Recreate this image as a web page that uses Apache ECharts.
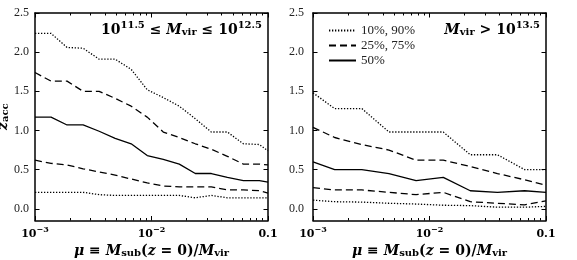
<!DOCTYPE html>
<html><head><meta charset="utf-8">
<script src="https://cdn.jsdelivr.net/npm/echarts@6/dist/echarts.min.js"></script>
<style>html,body{margin:0;padding:0;background:#fff}#c{width:577px;height:260px}</style>
</head><body><div id="c"></div>
<script>
// ---- data ----
const muLeft  = [0.001, 0.001373, 0.001885, 0.002588, 0.003553, 0.004875, 0.006693, 0.009189, 0.01262, 0.01732, 0.02377, 0.03263, 0.04479, 0.06149, 0.08441, 0.1];
const left10  = [0.21, 0.21, 0.21, 0.21, 0.18, 0.17, 0.17, 0.17, 0.17, 0.17, 0.14, 0.17, 0.14, 0.14, 0.14, 0.14];
const left25  = [0.62, 0.58, 0.56, 0.51, 0.47, 0.43, 0.38, 0.33, 0.29, 0.28, 0.28, 0.28, 0.24, 0.24, 0.23, 0.20];
const left50  = [1.17, 1.17, 1.07, 1.07, 0.99, 0.90, 0.83, 0.68, 0.63, 0.57, 0.45, 0.45, 0.40, 0.36, 0.36, 0.34];
const left75  = [1.74, 1.63, 1.63, 1.50, 1.50, 1.41, 1.31, 1.17, 0.98, 0.91, 0.83, 0.76, 0.67, 0.57, 0.57, 0.56];
const left90  = [2.24, 2.24, 2.06, 2.05, 1.91, 1.91, 1.78, 1.52, 1.42, 1.31, 1.15, 0.98, 0.98, 0.83, 0.82, 0.74];

const muRight = [0.001, 0.001535, 0.002624, 0.004487, 0.007674, 0.01312, 0.02239, 0.03828, 0.06546, 0.1];
const right10 = [0.11, 0.09, 0.085, 0.07, 0.06, 0.045, 0.04, 0.02, 0.02, 0.03];
const right25 = [0.27, 0.24, 0.24, 0.21, 0.18, 0.21, 0.09, 0.07, 0.05, 0.10];
const right50 = [0.60, 0.50, 0.50, 0.45, 0.36, 0.40, 0.23, 0.21, 0.23, 0.21];
const right75 = [1.04, 0.91, 0.82, 0.75, 0.62, 0.62, 0.54, 0.45, 0.37, 0.30];
const right90 = [1.48, 1.28, 1.28, 0.98, 0.98, 0.98, 0.69, 0.69, 0.50, 0.50];

const seriesNames = ['10%, 90%', '25%, 75%', '50%'];
const xMajorTicks = [0.001, 0.01, 0.1];
const xMinorTicks = [0.002, 0.003, 0.004, 0.005, 0.006, 0.007, 0.008, 0.009,
                     0.02, 0.03, 0.04, 0.05, 0.06, 0.07, 0.08, 0.09];
const xTickLabels = ['{b|10}{sup|\u22123}', '{b|10}{sup|\u22122}', '{b|0.1}'];
const yTicks = [0, 0.5, 1, 1.5, 2, 2.5];
const yTickLabels = ['0.0', '0.5', '1.0', '1.5', '2.0', '2.5'];
const xTitle = '{bi|\u03bc}{b| \u2261 }{bi|M}{sub|sub}{b|(}{bi|z}{b| = 0)/}{bi|M}{sub|vir}';
const yTitle = '{bi|z}{sub|acc}';
const annLeft = '{b|10}{sup|11.5}{b| \u2264 }{bi|M}{sub|vir}{b| \u2264 10}{sup|12.5}';
const annRight = '{bi|M}{sub|vir}{b| > 10}{sup|13.5}';

// ---- styling ----
const SERIF = '"Liberation Serif", "DejaVu Serif", serif';
const MATH = '"DejaVu Serif", "Liberation Serif", serif';
const BLACK = '#000';
const DOT = [1.3, 1.7], DASH = [7, 4];

function richSet(size) {
  const s = Math.round(size * 0.7);
  return {
    b:   {fontFamily: MATH, fontWeight: 'bold', fontSize: size, color: BLACK, lineHeight: size + 3, verticalAlign: 'bottom'},
    bi:  {fontFamily: MATH, fontWeight: 'bold', fontStyle: 'italic', fontSize: size, color: BLACK, lineHeight: size + 3, verticalAlign: 'bottom'},
    sup: {fontFamily: MATH, fontWeight: 'bold', fontSize: s, color: BLACK, lineHeight: s - 1, verticalAlign: 'top'},
    sub: {fontFamily: MATH, fontWeight: 'bold', fontSize: s, color: BLACK, lineHeight: s + 1, verticalAlign: 'bottom'}
  };
}

const GRIDS = [
  {left: 35, top: 13, width: 233, height: 207.5, outerBoundsMode: 'none'},
  {left: 313, top: 13, width: 233, height: 207.5, outerBoundsMode: 'none'}
];

function xLabelFmt(v) {
  const i = xMajorTicks.findIndex(t => Math.abs(Math.log10(t) - Math.log10(v)) < 1e-6);
  return i >= 0 ? xTickLabels[i] : '';
}

function xAxesFor(g) {
  const base = {type: 'log', logBase: 10, gridIndex: g, min: 0.001, max: 0.1,
    splitLine: {show: false}, minorTick: {show: false}, minorSplitLine: {show: false}};
  const line = {show: true, onZero: false, lineStyle: {color: BLACK, width: 1.5}};
  const noLine = {show: false, onZero: false};
  const major = {show: true, inside: true, length: 4.5, customValues: xMajorTicks, lineStyle: {color: BLACK, width: 1}};
  const minor = {show: true, inside: true, length: 2.5, customValues: xMinorTicks, lineStyle: {color: BLACK, width: 1}};
  return [
    Object.assign({}, base, {position: 'bottom', axisLine: line, axisTick: major,
      axisLabel: {show: true, customValues: xMajorTicks, formatter: xLabelFmt, margin: 5, rich: richSet(11)},
      name: xTitle, nameLocation: 'middle', nameGap: 20, nameTextStyle: {rich: richSet(14)}}),
    Object.assign({}, base, {position: 'bottom', axisLine: noLine, axisTick: minor, axisLabel: {show: false}}),
    Object.assign({}, base, {position: 'top', axisLine: line, axisTick: major, axisLabel: {show: false}}),
    Object.assign({}, base, {position: 'top', axisLine: noLine, axisTick: minor, axisLabel: {show: false}})
  ];
}

function yAxesFor(g, margin, withName) {
  const base = {type: 'value', gridIndex: g, min: -0.15, max: 2.5, splitLine: {show: false},
    axisLine: {show: true, onZero: false, lineStyle: {color: BLACK, width: 1.5}},
    axisTick: {show: true, inside: true, length: 4.5, customValues: yTicks, lineStyle: {color: BLACK, width: 1}}};
  const left = Object.assign({}, base, {position: 'left',
    axisLabel: {show: true, customValues: yTicks, margin: margin,
      formatter: v => yTickLabels[yTicks.findIndex(t => Math.abs(t - v) < 1e-9)],
      fontFamily: SERIF, fontSize: 12, color: '#222'}});
  if (withName) {
    Object.assign(left, {name: yTitle, nameLocation: 'middle', nameRotate: 90, nameGap: 19,
      nameTextStyle: {rich: richSet(14)}});
  }
  const right = Object.assign({}, base, {position: 'right', axisLabel: {show: false}});
  return [left, right];
}

function mk(nameIdx, mus, vals, dash, xi, yi) {
  return {
    type: 'line', name: seriesNames[nameIdx], xAxisIndex: xi, yAxisIndex: yi,
    data: mus.map((m, i) => [m, vals[i]]),
    showSymbol: false, symbol: 'none', clip: true, silent: true,
    lineStyle: {color: BLACK, width: 1.3, type: dash},
    itemStyle: {color: BLACK}, z: 3
  };
}

const option = {
  animation: false,
  backgroundColor: '#fff',
  grid: GRIDS,
  xAxis: xAxesFor(0).concat(xAxesFor(1)),
  yAxis: yAxesFor(0, 6, true).concat(yAxesFor(1, 9, false)),
  title: [
    {text: annLeft, right: 315, top: 20, padding: 0, textStyle: {rich: richSet(14)}},
    {text: annRight, right: 37, top: 20, padding: 0, textStyle: {rich: richSet(14)}}
  ],
  legend: {
    show: true, orient: 'vertical', left: 328, top: 24, padding: 0,
    itemWidth: 27, itemHeight: 13, itemGap: 2, selectedMode: false,
    data: seriesNames,
    itemStyle: {opacity: 0, borderWidth: 0},
    textStyle: {fontFamily: SERIF, fontSize: 13, lineHeight: 13, color: '#222'}
  },
  series: [
    mk(0, muLeft, left10, DOT, 0, 0),
    mk(0, muLeft, left90, DOT, 0, 0),
    mk(1, muLeft, left25, DASH, 0, 0),
    mk(1, muLeft, left75, DASH, 0, 0),
    mk(2, muLeft, left50, 'solid', 0, 0),
    mk(0, muRight, right10, DOT, 4, 2),
    mk(0, muRight, right90, DOT, 4, 2),
    mk(1, muRight, right25, DASH, 4, 2),
    mk(1, muRight, right75, DASH, 4, 2),
    mk(2, muRight, right50, 'solid', 4, 2)
  ]
};

const chart = echarts.init(document.getElementById('c'), null, {renderer: 'canvas'});
chart.setOption(option);
</script>
</body></html>
